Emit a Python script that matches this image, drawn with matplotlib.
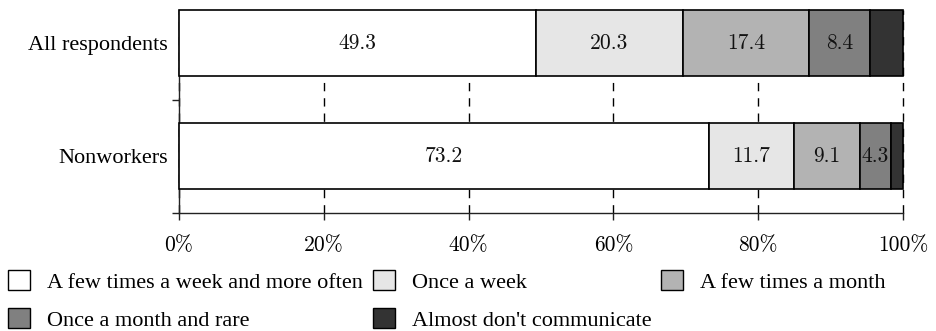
import matplotlib
matplotlib.use("Agg")
import matplotlib.pyplot as plt
from matplotlib.patches import Patch
import numpy as np

groups = ["All respondents", "Nonworkers"]
series_names = [
    "A few times a week and more often",
    "Once a week",
    "A few times a month",
    "Once a month and rare",
    "Almost don't communicate",
]
all_respondents = [49.3, 20.3, 17.4, 8.4, 4.6]
nonworkers = [73.2, 11.7, 9.1, 4.3, 1.7]
label_series = 4  # the last series is left unlabelled
xtick_values = [0, 20, 40, 60, 80, 100]
xtick_labels = ["0%", "20%", "40%", "60%", "80%", "100%"]

colors = ["#ffffff", "#e6e6e6", "#b3b3b3", "#808080", "#333333"]
label_font = "Liberation Serif"
num_font = "cmr10"

fig = plt.figure(figsize=(9.36, 3.31), dpi=100)
ax = fig.add_axes([179 / 936, 1 - 213 / 331, (903 - 179) / 936, (213 - 10) / 331])

ypos = {"All respondents": 1, "Nonworkers": 0}
bar_h = 0.58
data = np.array([all_respondents, nonworkers])

for gi, g in enumerate(groups):
    left = 0.0
    for si in range(len(series_names)):
        v = data[gi, si]
        bars = ax.barh(ypos[g], v, left=left, height=bar_h, color=colors[si],
                       edgecolor="black", linewidth=1.2, zorder=3)
        for b in bars:
            b.set_clip_on(False)
        if si < label_series:
            ax.text(left + v / 2, ypos[g], f"{v:.1f}", ha="center", va="center",
                    fontsize=15.5, family=num_font, color="#111111", zorder=4)
        left += v

ax.set_xlim(0, 100)
ax.set_ylim(-0.5, 1 + bar_h / 2)

ax.set_xticks(xtick_values)
ax.set_xticklabels(xtick_labels, family=num_font, fontsize=15.5)
ax.set_yticks([ypos[g] for g in groups])
ax.set_yticklabels(groups, family=label_font, fontsize=16)
ax.set_yticks([-0.5, 0.5], minor=True)

ax.tick_params(axis="y", which="major", length=0, pad=8)
ax.tick_params(axis="y", which="minor", length=5, width=1, color="#222222", direction="out")
ax.tick_params(axis="x", which="major", length=5, width=1, color="#222222", direction="out", pad=11)

ax.grid(axis="x", color="black", linestyle=(0, (6, 5)), linewidth=1)
for gl in ax.get_xgridlines():
    gl.set_clip_on(False)
ax.set_axisbelow(True)

for side in ("top", "right"):
    ax.spines[side].set_visible(False)
for side in ("left", "bottom"):
    ax.spines[side].set_color("#222222")
    ax.spines[side].set_linewidth(1)

handles = [Patch(facecolor=c, edgecolor="black", linewidth=1) for c in colors]
order = [0, 3, 1, 4, 2]
fig.legend([handles[i] for i in order], [series_names[i] for i in order],
           loc="upper left", bbox_to_anchor=(8 / 936, 1 - 270 / 331),
           ncol=3, frameon=False, borderpad=0, borderaxespad=0,
           handlelength=1.0, handleheight=1.0, handletextpad=0.75,
           columnspacing=0.45, labelspacing=0.7,
           prop={"family": label_font, "size": 16})

fig.savefig("out.png", dpi=100)
